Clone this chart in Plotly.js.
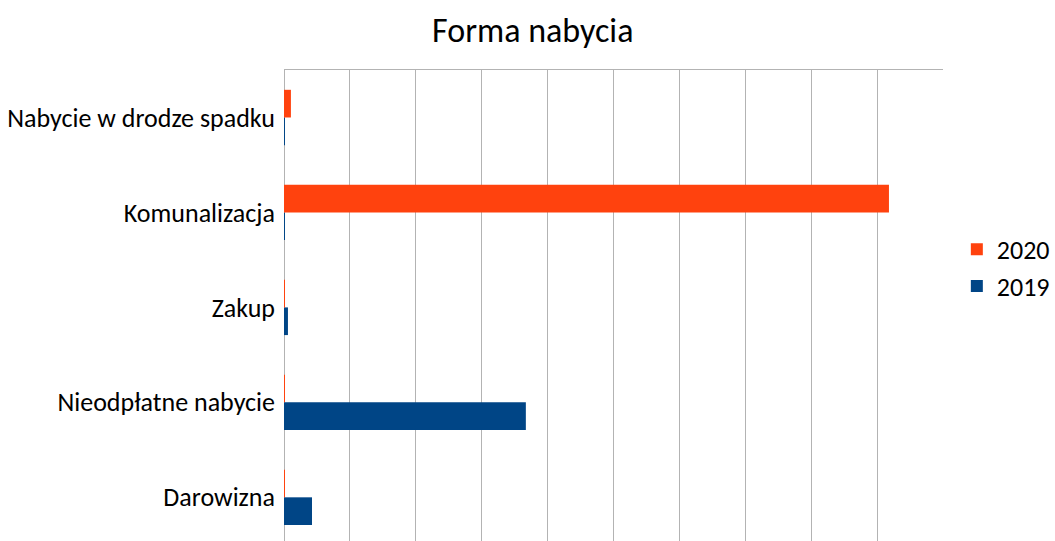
<!DOCTYPE html>
<html>
<head>
<meta charset="utf-8">
<script src="https://cdn.plot.ly/plotly-3.0.1.min.js"></script>
<style>html,body{margin:0;padding:0;background:#fff;}#chart{width:1055px;height:541px;}</style>
</head>
<body>
<div id="chart"></div>
<script>
// Categories, bottom to top as drawn
const categories = ["Darowizna", "Nieodpłatne nabycie", "Zakup", "Komunalizacja", "Nabycie w drodze spadku"];
const values2019 = [0.425, 3.67, 0.06, 0.015, 0.015];
const values2020 = [0.015, 0.015, 0.015, 9.18, 0.105];
const seriesNames = ["2019", "2020"];
const titleText = "Forma nabycia";

const FONT = "Carlito, Lato, 'Open Sans', sans-serif";

const traces = [
  {type: "bar", orientation: "h", name: seriesNames[0], y: categories, x: values2019,
   marker: {color: "#004586"}, legendgroup: "g2", legendrank: 2, hoverinfo: "x+y"},
  {type: "bar", orientation: "h", name: seriesNames[1], y: categories, x: values2020,
   marker: {color: "#ff420e"}, legendgroup: "g1", legendrank: 1, hoverinfo: "x+y"}
];

const layout = {
  width: 1055, height: 541,
  margin: {l: 284, r: 112, t: 70, b: 0, pad: 0},
  paper_bgcolor: "#ffffff", plot_bgcolor: "#ffffff",
  font: {family: FONT, color: "#000000", size: 26},
  title: {text: titleText, font: {family: FONT, size: 34, color: "#000"},
          xref: "container", x: 0.505, xanchor: "center",
          yref: "container", y: 0.945, yanchor: "middle"},
  barmode: "group", bargap: 0.417, bargroupgap: 0,
  xaxis: {range: [0, 10], dtick: 1, showticklabels: false, ticks: "",
          showgrid: true, gridcolor: "#b3b3b3", gridwidth: 1,
          zeroline: true, zerolinecolor: "#b3b3b3", zerolinewidth: 1,
          side: "top", showline: true, linecolor: "#b3b3b3", linewidth: 1.5,
          fixedrange: true},
  yaxis: {type: "category", categoryorder: "array", categoryarray: categories,
          range: [-0.46, 4.5], showgrid: false, zeroline: false, showline: false,
          ticks: "", ticklabelstandoff: 8,
          tickfont: {family: FONT, size: 26, color: "#000"}, fixedrange: true},
  showlegend: true,
  legend: {traceorder: "grouped", tracegroupgap: 0,
           x: 1.021, xanchor: "left", y: 0.58, yanchor: "middle",
           font: {family: FONT, size: 26, color: "#000"},
           bgcolor: "rgba(0,0,0,0)", borderwidth: 0}
};

Plotly.newPlot("chart", traces, layout, {displayModeBar: false, staticPlot: true});
</script>
</body>
</html>
